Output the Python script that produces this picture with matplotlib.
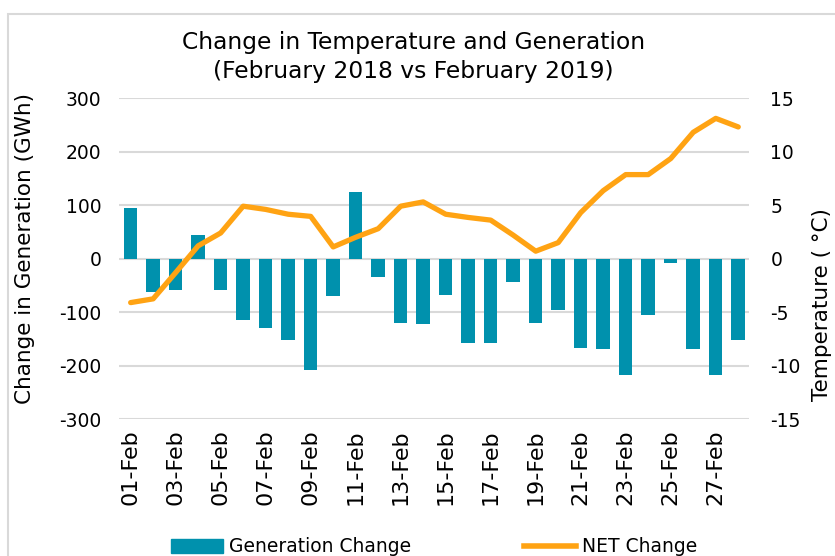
import matplotlib
matplotlib.use("Agg")
import matplotlib.pyplot as plt
from matplotlib.patches import Rectangle
from matplotlib.lines import Line2D

plt.rcParams['font.family'] = ['DejaVu Sans']
plt.rcParams['axes.unicode_minus'] = False

days = [f"{d:02d}-Feb" for d in range(1, 29)]
generation_change = [95, -62, -58, 45, -58, -114, -129, -151, -207, -69,
                     125, -35, -121, -122, -68, -158, -158, -43, -121, -95,
                     -166, -169, -218, -106, -9, -169, -218, -151]
net_change = [-4.1, -3.75, -1.3, 1.2, 2.4, 4.9, 4.6, 4.15, 3.95, 1.1,
              2.0, 2.8, 4.9, 5.3, 4.15, 3.85, 3.6, 2.2, 0.7, 1.5,
              4.3, 6.35, 7.85, 7.85, 9.35, 11.8, 13.1, 12.3]
left_ticks = [-300, -200, -100, 0, 100, 200, 300]
right_ticks = [-15, -10, -5, 0, 5, 10, 15]

BAR = "#0091AD"
LINE = "#FFA313"
GRID = "#D9D9D9"
TXT = "#000000"

fig = plt.figure(figsize=(8.35, 5.56), dpi=100)
fig.patches.append(Rectangle((8/835, -0.1), 1.0, 1 - 14/556 + 0.1, transform=fig.transFigure,
                             fill=False, edgecolor=GRID, linewidth=1.5, zorder=0))
ax = fig.add_axes([0.143, 0.2458, 0.8976 - 0.143, 0.8237 - 0.2458])
x = list(range(len(days)))
ax.bar(x, generation_change, width=0.6, color=BAR, zorder=3)
ax.set_ylim(-300, 300)
ax.set_yticks(left_ticks)
ax.set_xlim(-0.5, len(days) - 0.5)
ax.set_xticks(x[::2])
ax.set_xticklabels(days[::2], rotation=90, fontsize=16)
ax.tick_params(axis='y', length=0, labelsize=13.5, colors=TXT, pad=13)
ax.tick_params(axis='x', length=0, colors=TXT, pad=7)
ax.grid(axis='y', color=GRID, linewidth=1.5, zorder=0)
for s in ax.spines.values():
    s.set_visible(False)
ax.set_ylabel("Change in Generation (GWh)", fontsize=15.5)
ax.yaxis.set_label_coords((35 - 119.5) / 630, (419 - 248) / 321)

ax2 = ax.twinx()
ax2.plot(x, net_change, color=LINE, linewidth=3.8, solid_capstyle='round', zorder=4)
ax2.set_ylim(-15, 15)
ax2.set_yticks(right_ticks)
ax2.tick_params(axis='y', length=0, labelsize=13.5, pad=15, colors=TXT)
for s in ax2.spines.values():
    s.set_visible(False)
ax2.set_ylabel("Temperature ( °C)", fontsize=15.5)
ax2.yaxis.set_label_coords((812 - 119.5) / 630, (419 - 304) / 321)

fig.text(0.495, 1 - 57 / 556, "Change in Temperature and Generation\n(February 2018 vs February 2019)",
         ha='center', va='center', fontsize=16.8, linespacing=1.35)

handles = [Rectangle((0, 0), 1, 1, color=BAR), Line2D([0], [0], color=LINE, linewidth=4)]
fig.legend(handles, ["Generation Change", "NET Change"], loc='center',
           bbox_to_anchor=(434 / 835, 1 - 547 / 556), ncol=2, frameon=False,
           fontsize=13.5, columnspacing=6.0, handlelength=2.8, handletextpad=0.3)

fig.savefig("out.png", dpi=100)
